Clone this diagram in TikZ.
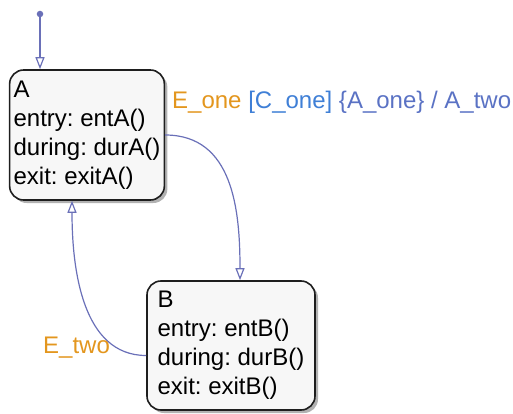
\documentclass[tikz,border=0pt]{standalone}
\usepackage{fontspec}
\setmainfont{Liberation Sans}
\frenchspacing
\usetikzlibrary{arrows.meta, shadows, positioning}
\definecolor{sfLine}{HTML}{6A70B8}
\definecolor{sfEvent}{HTML}{E3961E}
\definecolor{sfCond}{HTML}{3F7FD6}
\definecolor{sfAct}{HTML}{5A72C4}
\definecolor{sfBox}{HTML}{1E1E1E}
\tikzset{
  state/.style     = {draw=sfBox, line width=1.6pt, rounded corners=14pt,
                      fill=black!3, align=left, inner sep=4pt,
                      font=\fontsize{24}{29}\selectfont,
                      drop shadow={shadow xshift=3pt, shadow yshift=-3pt,
                                   fill=black, opacity=0.3}},
  trans/.style     = {sfLine, line width=1.2pt,
                      -{Triangle[open, length=12pt, width=9pt]}},
  initdot/.style   = {circle, fill=sfLine, inner sep=2.3pt},
  lbl/.style       = {font=\fontsize{24}{29}\selectfont, inner sep=0pt},
}

\begin{document}
\begin{tikzpicture}[x=1pt, y=-1pt]
  \useasboundingbox (0,0) rectangle (513,414);
  % states
  \node[state, minimum width=152pt, minimum height=130pt]
    (A) at (87,135) {A\\entry: entA()\\during: durA()\\exit: exitA()};
  \node[state, minimum width=168pt, minimum height=129pt]
    (B) at (231,345.5) {B\\entry: entB()\\during: durB()\\exit: exitB()\hspace{8pt}};
  % default transition
  \node[initdot] (init) at (40,14) {};
  \draw[trans] (init) -- (init |- A.north);
  % transitions
  \coordinate (Bin)  at ([xshift=9pt]B.north);
  \coordinate (Bout) at ([yshift=-10pt]B.west);
  \coordinate (Ain)  at ([xshift=-15pt]A.south);
  \draw[trans] (A.east) .. controls +(68,0) and +(0,-70) .. (Bin);
  \draw[trans] (Bout) .. controls +(-64,0) and +(0,68) .. (Ain);
  % labels
  \node[lbl, anchor=base west] (lone) at (172,109)
    {\textcolor{sfEvent}{E\_one} \textcolor{sfCond}{[C\_one]}
     \textcolor{sfAct}{\{A\_one\} / A\_two}};
  \node[lbl, anchor=base west, sfEvent] (ltwo) at (43,353) {E\_two};
\end{tikzpicture}
\end{document}
